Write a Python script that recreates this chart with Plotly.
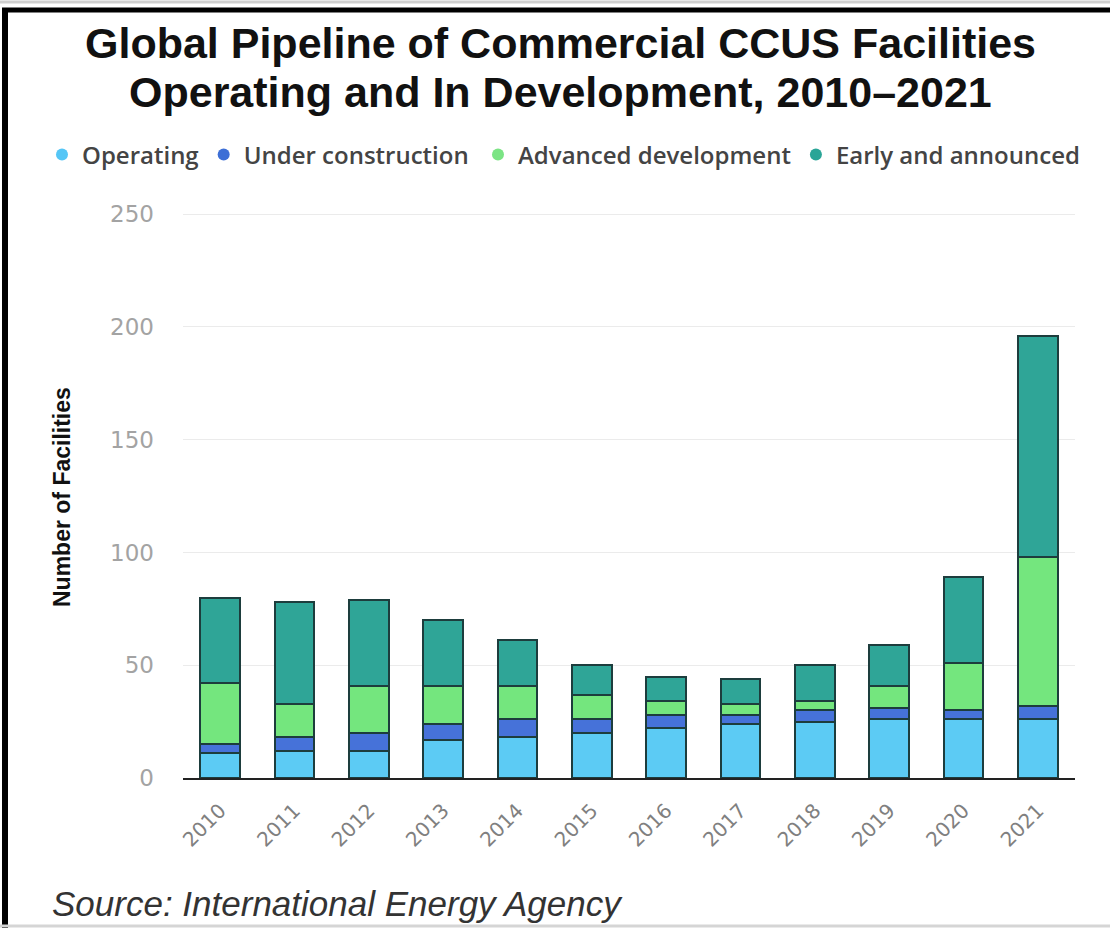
import plotly.graph_objects as go

years = ["2010", "2011", "2012", "2013", "2014", "2015", "2016", "2017", "2018", "2019", "2020", "2021"]
operating = [11, 12, 12, 17, 18, 20, 22, 24, 25, 26, 26, 26]
under_construction = [4, 6, 8, 7, 8, 6, 6, 4, 5, 5, 4, 6]
advanced_development = [27, 15, 21, 17, 15, 11, 6, 5, 4, 10, 21, 66]
early_announced = [38, 45, 38, 29, 20, 13, 11, 11, 16, 18, 38, 98]

series_names = ["Operating", "Under construction", "Advanced development", "Early and announced"]
series_values = [operating, under_construction, advanced_development, early_announced]
bar_colors = ["#5ccbf4", "#4672d9", "#74e67e", "#2fa597"]
legend_colors = ["#55c6f6", "#3d6fd6", "#7be484", "#2aa597"]
legend_groups = ["legend", "legend", "legend2", "legend2"]
y_ticks = [0, 50, 100, 150, 200, 250]
title_lines = ["Global Pipeline of Commercial CCUS Facilities",
               "Operating and In Development, 2010–2021"]

W, H = 1110, 928
L, R, T, B = 183, 35, 213, 150
PW, PH = W - L - R, H - T - B


def px(xp):
    return (xp - L) / PW


def py(yp):
    return (H - B - yp) / PH


fig = go.Figure()
for name, vals, col in zip(series_names, series_values, bar_colors):
    fig.add_trace(go.Bar(
        x=years, y=vals, name=name, showlegend=False,
        marker=dict(color=col, line=dict(color="#1d3d3d", width=2)),
    ))
for name, col, lg in zip(series_names, legend_colors, legend_groups):
    fig.add_trace(go.Scatter(
        x=[None], y=[None], mode="markers", name=name, legend=lg,
        marker=dict(color=col, size=13, symbol="circle"),
    ))

legend_font = dict(family="Open Sans, Liberation Sans, sans-serif", size=24, color="#444444", weight=600)
fig.update_layout(
    width=W, height=H,
    margin=dict(l=L, r=R, t=T, b=B, autoexpand=False),
    paper_bgcolor="white", plot_bgcolor="white",
    barmode="stack", bargap=0.47,
    legend=dict(
        orientation="h", xref="container", x=42 / W, xanchor="left",
        yref="container", y=1 - 155 / H, yanchor="middle",
        traceorder="normal", font=legend_font,
        itemsizing="constant", itemwidth=30, bgcolor="rgba(0,0,0,0)",
    ),
    legend2=dict(
        orientation="h", xref="container", x=1085 / W, xanchor="right",
        yref="container", y=1 - 155 / H, yanchor="middle",
        traceorder="normal", font=legend_font,
        itemsizing="constant", itemwidth=30, bgcolor="rgba(0,0,0,0)",
    ),
    xaxis=dict(
        type="category", showgrid=False, ticks="", tickangle=-45,
        tickfont=dict(family="DejaVu Sans, sans-serif", size=20, color="#808080"),
        showline=True, linecolor="#222222", linewidth=2,
        range=[-0.5, 11.5], ticklabelstandoff=11, automargin=False,
    ),
    xaxis2=dict(
        overlaying="x", anchor="y", side="bottom", range=[-0.5, 11.5],
        tickvals=[i + 0.5 for i in range(len(years))], ticks="outside",
        ticklen=15, tickwidth=2, tickcolor="#222222", showticklabels=False,
        showgrid=False, zeroline=False, showline=False,
    ),
    yaxis=dict(
        range=[0, 250.5], tickvals=y_ticks, showgrid=True, gridcolor="#ebebeb", gridwidth=1,
        zeroline=False, showline=False, ticks="",
        tickfont=dict(family="DejaVu Sans, sans-serif", size=23, color="#a3a3a3"),
        ticklabelstandoff=28, automargin=False,
    ),
    showlegend=True,
)

for line, yc in zip(title_lines, [43, 92]):
    fig.add_annotation(
        text="<b>" + line + "</b>", x=px(W * 0.505), y=py(yc), xref="paper", yref="paper",
        showarrow=False, xanchor="center", yanchor="middle",
        font=dict(family="Liberation Sans, Arial, sans-serif", size=43, color="#111111"),
    )

fig.add_annotation(
    text="<b>Number of Facilities</b>", textangle=-90,
    x=px(62), y=py(497), xref="paper", yref="paper", showarrow=False,
    xanchor="center", yanchor="middle",
    font=dict(family="Liberation Sans, Arial, sans-serif", size=23, color="#111111"),
)
fig.add_annotation(
    text="<i>Source: International Energy Agency</i>",
    x=px(50), y=py(903), xref="paper", yref="paper", showarrow=False,
    xanchor="left", yanchor="middle",
    font=dict(family="Liberation Sans, Arial, sans-serif", size=35, color="#333333"),
)

# frame around the image
fig.add_shape(type="line", xref="paper", yref="paper", x0=px(5), x1=px(5), y0=py(9), y1=py(H + 5),
              line=dict(color="#000000", width=6))
fig.add_shape(type="line", xref="paper", yref="paper", x0=px(2), x1=px(W + 5), y0=py(10), y1=py(10),
              line=dict(color="#000000", width=5))
fig.add_shape(type="line", xref="paper", yref="paper", x0=px(0), x1=px(W + 5), y0=py(2), y1=py(2),
              line=dict(color="#cfcfcf", width=3))
fig.add_shape(type="line", xref="paper", yref="paper", x0=px(0), x1=px(W + 5), y0=py(926), y1=py(926),
              line=dict(color="#d5d5d5", width=3))

fig.write_html("out.html")
